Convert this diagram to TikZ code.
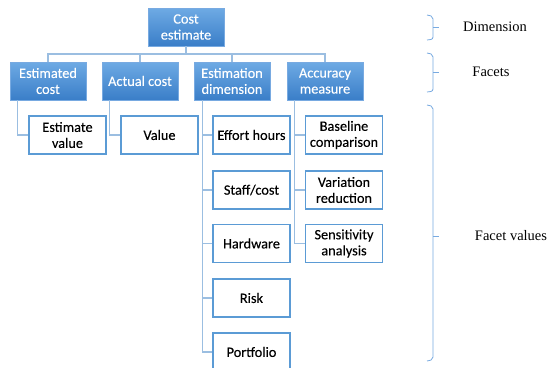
\documentclass[tikz,border=0pt]{standalone}
\usepackage{fontspec}
\setmainfont{Liberation Serif}
\newfontfamily\boxfont[FakeBold=0.15]{Carlito}
\begin{document}
\begin{tikzpicture}[x=1pt,y=-1pt,
  topbox/.style={draw={rgb,255:red,120;green,170;blue,225}, line width=0.8pt,
    top color={rgb,255:red,110;green,170;blue,228},
    bottom color={rgb,255:red,58;green,126;blue,200},
    text=white, font=\boxfont\fontsize{14.3}{16}\selectfont, align=center,
    minimum width=76pt, minimum height=38pt, inner sep=1pt},
  leafbox/.style={draw={rgb,255:red,91;green,155;blue,213}, line width=1.3pt,
    fill=white, text=black, font=\boxfont\fontsize{14.3}{16}\selectfont, align=center,
    minimum width=77pt, minimum height=38pt, inner sep=1pt},
  link/.style={draw={rgb,255:red,155;green,190;blue,225}, line width=1.3pt},
  brace/.style={draw={rgb,255:red,120;green,170;blue,225}, line width=0.8pt},
  lab/.style={font=\fontsize{14.5}{16}\selectfont, text=black}
]
\useasboundingbox (0,0) rectangle (548,367);
\clip (0,0) rectangle (548,367);
\fill[white] (0,0) rectangle (548,367);

\coordinate (bus) at (0,54);

% top level
\node[topbox] (ce) at (186,27) {Cost\\estimate};
% facets
\node[topbox] (ec) at (48,81) {Estimated\\cost};
\node[topbox] (ac) at (140,81) {Actual cost};
\node[topbox] (ed) at (232,81) {Estimation\\dimension};
\node[topbox] (am) at (325,81) {Accuracy\\measure};

% bus connectors
\draw[link] (ec.north) -- (ec.north |- bus) -- (am.north |- bus) -- (am.north);
\draw[link] (ce.south) -- (ce.south |- bus);
\draw[link] (ac.north) -- (ac.north |- bus);
\draw[link] (ed.north) -- (ed.north |- bus);

% leaves
\node[leafbox] (ev) at (67.5,135) {Estimate\\value};
\node[leafbox] (va) at (159.5,135) {Value};
\node[leafbox] (eh) at (251.5,135) {Effort hours};
\node[leafbox] (sc) at (251.5,190) {Staff/cost};
\node[leafbox] (hw) at (251.5,243.5) {Hardware};
\node[leafbox] (ri) at (251.5,298) {Risk};
\node[leafbox] (pf) at (251.5,352) {Portfolio};
\node[leafbox] (bc) at (344,135) {Baseline\\comparison};
\node[leafbox] (vr) at (344,190) {Variation\\reduction};
\node[leafbox] (sa) at (344,243.5) {Sensitivity\\analysis};

% leaf connectors
\draw[link] ([xshift=8pt]ec.south west) |- (ev.west);
\draw[link] ([xshift=8pt]ac.south west) |- (va.west);
\draw[link] ([xshift=9pt]ed.south west) |- (pf.west);
\foreach \n in {eh,sc,hw,ri}{
  \draw[link] ([xshift=9pt]ed.south west |- \n.west) -- (\n.west);
}
\draw[link] ([xshift=8pt]am.south west) |- (sa.west);
\foreach \n in {bc,vr}{
  \draw[link] ([xshift=8pt]am.south west |- \n.west) -- (\n.west);
}

% braces
\draw[brace] (427,15) to[out=0,in=90] (433,19) -- (433,37) to[out=-90,in=0] (427,40);
\draw[brace] (433,27.5) -- (439,27.5);
\draw[brace] (427,53) to[out=0,in=90] (433,57) -- (433,89) to[out=-90,in=0] (427,92);
\draw[brace] (433,72.5) -- (439,72.5);
\draw[brace] (427,105) to[out=0,in=90] (433,109) -- (433,357) to[out=-90,in=0] (427,361);
\draw[brace] (433,236) -- (439,236);

\node[lab] (ld) at (495,27) {Dimension};
\node[lab] (lf) at (491,72) {Facets};
\node[lab] (lv) at (511,236) {Facet values};
\end{tikzpicture}
\end{document}
